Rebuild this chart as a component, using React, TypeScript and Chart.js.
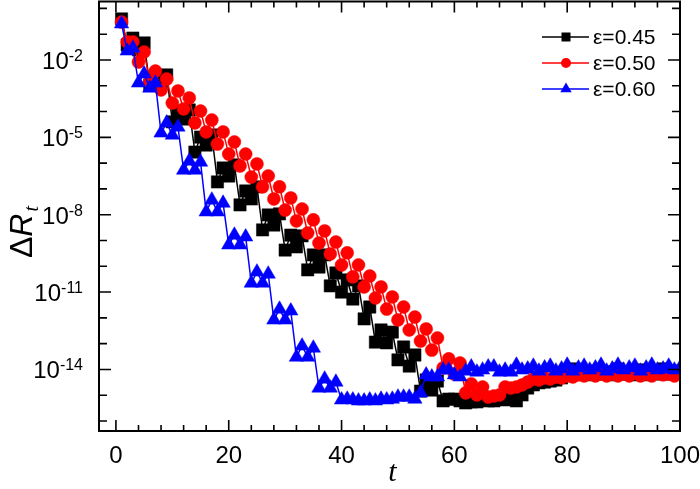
import React, { useEffect, useRef } from 'react';
import { Chart, registerables } from 'chart.js';

Chart.register(...registerables);

// x categories: time step t
const T_VALUES: number[] = Array.from({ length: 100 }, (_, i) => i + 1);
const X_TICK_LABELS = [0, 20, 40, 60, 80, 100];
const Y_TICK_EXPONENTS = [-2, -5, -8, -11, -14];
const LEGEND_LABELS = ['\u03b5=0.45', '\u03b5=0.50', '\u03b5=0.60'];

// log10(ΔR_t), t = 1..100
const LOG_EPS_045 = [
  -0.41, -1.42, -1.15, -1.61, -1.34, -2.97, -2.62, -2.93, -2.58, -4.40,
  -3.98, -4.29, -3.94, -5.57, -4.99, -5.30, -4.91, -6.73, -6.19, -6.50,
  -6.07, -7.62, -7.08, -7.39, -6.92, -8.59, -8.01, -8.40, -7.97, -9.37,
  -8.79, -9.25, -8.82, -10.14, -9.56, -10.03, -9.56, -10.76, -10.26, -11.00,
  -10.53, -11.27, -10.76, -12.04, -11.58, -12.94, -12.47, -12.97, -12.55, -13.63,
  -13.13, -13.87, -13.44, -14.84, -14.41, -14.80, -14.45, -15.22, -15.15, -15.15,
  -15.22, -15.30, -15.26, -15.26, -15.18, -15.22, -15.22, -15.15, -15.18, -15.07,
  -15.22, -14.99, -14.72, -14.60, -14.52, -14.49, -14.45, -14.41, -14.33, -14.21,
  -13.98, -14.18, -14.10, -14.21, -14.06, -14.18, -14.10, -14.21, -13.98, -14.18,
  -14.10, -14.21, -14.02, -14.21, -14.10, -14.18, -13.98, -14.18, -14.06, -14.14,
];
const LOG_EPS_050 = [
  -0.53, -1.30, -1.30, -2.08, -1.69, -2.85, -2.43, -3.16, -2.74, -3.67,
  -3.20, -3.90, -3.47, -4.44, -3.98, -4.79, -4.33, -5.26, -4.79, -5.65,
  -5.18, -6.11, -5.65, -6.54, -6.03, -6.92, -6.50, -7.39, -6.92, -7.82,
  -7.35, -8.24, -7.78, -8.71, -8.20, -9.10, -8.63, -9.52, -9.06, -9.95,
  -9.48, -10.41, -9.95, -10.80, -10.38, -11.23, -10.80, -11.66, -11.19, -12.08,
  -11.58, -12.47, -11.97, -12.90, -12.43, -13.25, -12.78, -13.94, -13.59, -14.18,
  -13.75, -14.91, -14.56, -14.99, -14.68, -15.07, -15.03, -14.99, -14.68, -14.72,
  -14.68, -14.60, -14.49, -14.37, -14.41, -14.33, -14.37, -14.29, -14.33, -14.25,
  -14.29, -14.21, -14.25, -14.18, -14.25, -14.18, -14.25, -14.18, -14.25, -14.18,
  -14.25, -14.14, -14.25, -14.18, -14.25, -14.14, -14.21, -14.18, -14.25, -14.14,
];
const LOG_EPS_060 = [
  -0.60, -1.65, -1.54, -2.89, -2.54, -3.09, -2.89, -4.83, -4.44, -4.91,
  -4.60, -6.27, -5.92, -6.27, -5.96, -7.89, -7.43, -7.89, -7.55, -9.17,
  -8.79, -9.17, -8.86, -10.65, -10.22, -10.65, -10.30, -12.08, -11.66, -12.08,
  -11.73, -13.52, -13.09, -13.52, -13.17, -14.72, -14.37, -14.72, -14.49, -15.18,
  -15.15, -15.18, -15.22, -15.22, -15.18, -15.22, -15.15, -15.18, -15.15, -15.07,
  -15.07, -15.07, -15.15, -14.91, -14.21, -14.29, -14.29, -14.02, -14.02, -14.21,
  -14.29, -14.06, -13.90, -14.10, -14.02, -13.90, -13.90, -14.10, -14.02, -14.10,
  -13.83, -14.02, -13.98, -13.87, -14.06, -13.94, -13.87, -14.06, -13.98, -13.83,
  -14.06, -13.94, -13.87, -14.02, -13.94, -13.83, -14.06, -13.98, -13.83, -14.02,
  -13.94, -13.87, -14.06, -13.94, -13.83, -14.02, -13.98, -13.87, -14.02, -13.94,
];

const COLORS = ['#000000', '#ff0000', '#0000ff'];
const SANS = '"Liberation Sans", Arial, sans-serif';
const SERIF = '"Liberation Serif", "Times New Roman", serif';

function toPoints(logs: number[]) {
  return T_VALUES.map((t, i) => ({ x: t, y: Math.pow(10, logs[i]) }));
}

function drawMarker(ctx: CanvasRenderingContext2D, style: string, x: number, y: number, r: number, color: string) {
  ctx.fillStyle = color;
  ctx.beginPath();
  if (style === 'rect') {
    ctx.rect(x - r, y - r, 2 * r, 2 * r);
  } else if (style === 'circle') {
    ctx.arc(x, y, r, 0, Math.PI * 2);
  } else {
    ctx.moveTo(x, y - r * 1.1);
    ctx.lineTo(x + r * 0.95, y + r * 0.55);
    ctx.lineTo(x - r * 0.95, y + r * 0.55);
    ctx.closePath();
  }
  ctx.fill();
}

const framePlugin = {
  id: 'framePlugin',
  afterDraw(chart: any) {
    const { ctx, chartArea: a, scales } = chart;
    const xs = scales.x;
    const ys = scales.y;
    ctx.save();
    ctx.strokeStyle = '#000';
    ctx.lineWidth = 2;
    ctx.strokeRect(a.left, a.top, a.right - a.left, a.bottom - a.top);

    // ticks (inward, on all four sides)
    ctx.lineWidth = 1.6;
    ctx.beginPath();
    for (let v = 0; v <= 100; v += 4) {
      const px = xs.getPixelForValue(v);
      const len = v % 20 === 0 ? 11 : 6;
      ctx.moveTo(px, a.bottom);
      ctx.lineTo(px, a.bottom - len);
      ctx.moveTo(px, a.top);
      ctx.lineTo(px, a.top + len);
    }
    for (let e = -16; e <= 0; e++) {
      const py = ys.getPixelForValue(Math.pow(10, e));
      const len = Y_TICK_EXPONENTS.includes(e) ? 12 : 8;
      ctx.moveTo(a.left, py);
      ctx.lineTo(a.left + len, py);
      ctx.moveTo(a.right, py);
      ctx.lineTo(a.right - len, py);
    }
    ctx.stroke();

    // x tick labels
    ctx.fillStyle = '#000';
    ctx.font = `24px ${SANS}`;
    ctx.textAlign = 'center';
    ctx.textBaseline = 'alphabetic';
    X_TICK_LABELS.forEach((v) => {
      ctx.fillText(String(v), xs.getPixelForValue(v), a.bottom + 32);
    });

    // y tick labels 10^e
    Y_TICK_EXPONENTS.forEach((e) => {
      const py = ys.getPixelForValue(Math.pow(10, e));
      const base = '10';
      const sup = String(e);
      ctx.font = `24px ${SANS}`;
      const wb = ctx.measureText(base).width;
      ctx.font = `16px ${SANS}`;
      const ws = ctx.measureText(sup).width;
      const right = 83;
      const x0 = right - wb - ws;
      ctx.textAlign = 'left';
      ctx.font = `24px ${SANS}`;
      ctx.fillText(base, x0, py + 9);
      ctx.font = `16px ${SANS}`;
      ctx.fillText(sup, x0 + wb, py + 1);
    });

    // x axis title
    ctx.textAlign = 'center';
    ctx.font = `italic 30px ${SERIF}`;
    ctx.fillText('t', (a.left + a.right) / 2 + 3, 481);

    // y axis title ΔR_t
    ctx.save();
    ctx.translate(32, 232);
    ctx.rotate(-Math.PI / 2);
    ctx.textAlign = 'left';
    ctx.font = `32px ${SANS}`;
    const wD = ctx.measureText('\u0394').width;
    ctx.font = `italic 32px ${SANS}`;
    const wR = ctx.measureText('R').width;
    ctx.font = `italic 20px ${SERIF}`;
    const wT = ctx.measureText('t').width;
    const total = wD + wR + 2 + wT;
    let cx = -total / 2;
    ctx.font = `32px ${SANS}`;
    ctx.fillText('\u0394', cx, 0);
    cx += wD;
    ctx.font = `italic 32px ${SANS}`;
    ctx.fillText('R', cx, 0);
    cx += wR + 2;
    ctx.font = `italic 20px ${SERIF}`;
    ctx.fillText('t', cx, 6);
    ctx.restore();

    // legend
    const styles = ['rect', 'circle', 'triangle'];
    const sizes = [4.5, 5, 6];
    const rows = [37, 63, 89];
    LEGEND_LABELS.forEach((label, i) => {
      const y = rows[i];
      ctx.strokeStyle = COLORS[i];
      ctx.lineWidth = 1.5;
      ctx.beginPath();
      ctx.moveTo(542, y);
      ctx.lineTo(589, y);
      ctx.stroke();
      drawMarker(ctx, styles[i], 566, y, sizes[i], COLORS[i]);
      ctx.fillStyle = '#000';
      ctx.font = `21px ${SANS}`;
      ctx.textAlign = 'left';
      ctx.textBaseline = 'middle';
      ctx.fillText(label, 593, y + 1);
    });
    ctx.restore();
  },
};

export default function App() {
  const canvasRef = useRef<HTMLCanvasElement | null>(null);

  useEffect(() => {
    const canvas = canvasRef.current;
    if (!canvas) return;
    const chart = new Chart(canvas, {
      type: 'line',
      data: {
        datasets: [
          {
            label: LEGEND_LABELS[0],
            data: toPoints(LOG_EPS_045),
            borderColor: COLORS[0],
            backgroundColor: COLORS[0],
            borderWidth: 1.5,
            pointStyle: 'rect',
            pointRadius: 8.7,
            pointBorderWidth: 0.5,
            order: 3,
          },
          {
            label: LEGEND_LABELS[1],
            data: toPoints(LOG_EPS_050),
            borderColor: COLORS[1],
            backgroundColor: COLORS[1],
            borderWidth: 1.5,
            pointStyle: 'circle',
            pointRadius: 6.5,
            pointBorderWidth: 0.5,
            order: 2,
          },
          {
            label: LEGEND_LABELS[2],
            data: toPoints(LOG_EPS_060),
            borderColor: COLORS[2],
            backgroundColor: COLORS[2],
            borderWidth: 1.5,
            pointStyle: 'triangle',
            pointRadius: 8.3,
            pointBorderWidth: 0.5,
            order: 1,
          },
        ],
      },
      options: {
        animation: false,
        responsive: false,
        devicePixelRatio: 1,
        layout: { autoPadding: false, padding: { top: 1.5, right: 20, left: 0, bottom: 0 } },
        plugins: {
          legend: { display: false },
          tooltip: { enabled: false },
        },
        elements: { line: { tension: 0 } },
        scales: {
          x: {
            type: 'linear',
            min: -3,
            max: 100,
            grid: { display: false },
            border: { display: false },
            ticks: { display: false },
            afterFit: (s: any) => {
              s.height = 58;
            },
          },
          y: {
            type: 'logarithmic',
            min: 4.1e-17,
            max: 1.85,
            grid: { display: false },
            border: { display: false },
            ticks: { display: false },
            afterFit: (s: any) => {
              s.width = 99;
            },
          },
        },
      },
      plugins: [framePlugin],
    } as any);
    return () => chart.destroy();
  }, []);

  return (
    <div style={{ position: 'fixed', left: 0, top: 0, width: 700, height: 489, background: '#fff' }}>
      <canvas ref={canvasRef} width={700} height={489} style={{ display: 'block' }} />
    </div>
  );
}
